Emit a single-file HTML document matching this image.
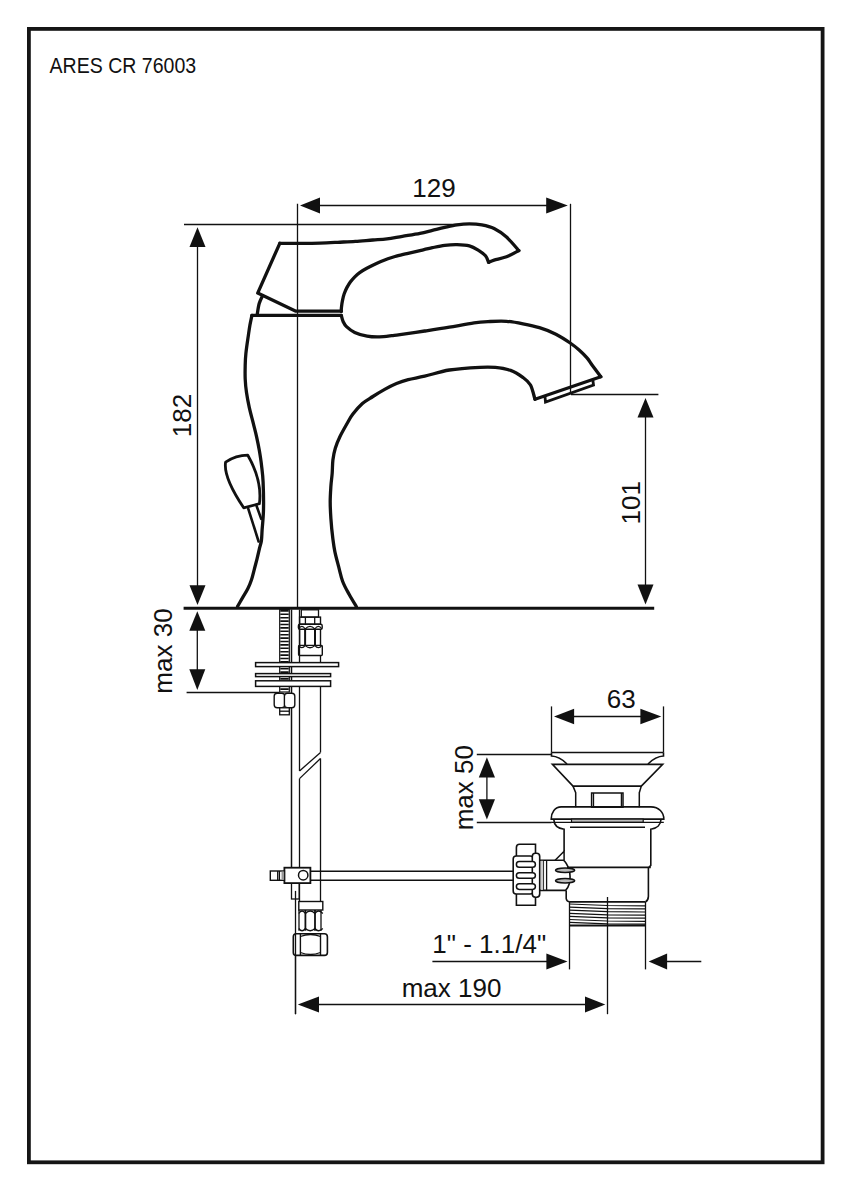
<!DOCTYPE html>
<html><head><meta charset="utf-8"><title>ARES CR 76003</title>
<style>
html,body{margin:0;padding:0;background:#fff;width:850px;height:1190px;overflow:hidden}
svg{display:block}
text{font-family:"Liberation Sans",sans-serif;fill:#111}
.t{fill:none;stroke:#111;stroke-width:1.3}
.m{fill:none;stroke:#111;stroke-width:2}
.k{fill:none;stroke:#111;stroke-width:3.3;stroke-linejoin:round;stroke-linecap:round}
.a{fill:#111;stroke:none}
</style></head>
<body>
<svg width="850" height="1190" viewBox="0 0 850 1190">
<rect x="28.9" y="28.9" width="793.7" height="1133.4" fill="none" stroke="#151515" stroke-width="3.8"/>
<text x="49.6" y="72.7" font-size="21.6" textLength="146.6" lengthAdjust="spacingAndGlyphs">ARES CR 76003</text>
<line class="t" x1="297.5" y1="203.8" x2="297.5" y2="608.0"/>
<line class="t" x1="310.0" y1="205.5" x2="560.0" y2="205.5"/>
<path class="a" d="M300.0,205.5 L320.0,197.5 L320.0,213.5 Z"/>
<path class="a" d="M567.8,205.5 L546.2,197.4 L546.2,213.6 Z"/>
<line class="t" x1="570.5" y1="203.8" x2="570.5" y2="393.5"/>
<text x="434" y="197.4" font-size="26" text-anchor="middle">129</text>
<line class="t" x1="184.0" y1="224.5" x2="462.0" y2="224.5"/>
<line class="t" x1="197.5" y1="240.0" x2="197.5" y2="595.0"/>
<path class="a" d="M197.5,227.2 L189.5,247.0 L205.5,247.0 Z"/>
<path class="a" d="M197.5,605.0 L189.5,585.2 L205.5,585.2 Z"/>
<text transform="translate(191.2,415.5) rotate(-90)" font-size="26" text-anchor="middle">182</text>
<line class="t" x1="571.0" y1="394.5" x2="658.4" y2="394.5"/>
<line class="t" x1="645.5" y1="410.0" x2="645.5" y2="595.0"/>
<path class="a" d="M645.5,398.1 L637.5,417.5 L653.5,417.5 Z"/>
<path class="a" d="M645.5,604.5 L637.5,584.5 L653.5,584.5 Z"/>
<text transform="translate(640.2,502.8) rotate(-90)" font-size="26" text-anchor="middle">101</text>
<line x1="183.6" y1="608.3" x2="654.2" y2="608.3" stroke="#111" stroke-width="2.9"/>
<path class="k" d="M279.8,243.3 C283.2,243.3 293.3,243.3 300.0,243.3 C306.7,243.3 313.7,243.3 320.0,243.1 C326.3,242.9 331.7,242.6 337.6,242.3 C343.5,242.0 349.4,241.8 355.3,241.4 C361.2,241.0 367.6,240.4 372.9,240.0 C378.2,239.6 382.1,239.5 387.0,238.9 C391.9,238.3 396.9,237.2 402.4,236.3 C407.9,235.4 415.0,234.4 420.0,233.4 C425.0,232.4 428.3,231.4 432.4,230.4 C436.5,229.4 440.6,228.3 444.7,227.4 C448.8,226.5 452.9,225.5 457.0,224.9 C461.1,224.3 465.3,223.9 469.4,223.9 C473.5,223.9 477.7,224.1 481.8,224.8 C485.9,225.6 490.0,226.4 494.1,228.4 C498.2,230.4 502.4,233.3 506.5,237.0 C510.6,240.7 516.8,248.3 518.8,250.6"/>
<path class="k" d="M518.8,250.6 C516.8,251.6 510.6,255.2 506.5,256.8 C502.4,258.4 497.1,259.2 494.1,260.1 C491.1,261.0 489.5,262.0 488.6,262.4"/>
<path class="k" d="M488.6,262.4 C488.1,261.3 487.1,257.7 485.5,255.8 C483.9,253.9 482.0,252.5 479.3,250.8 C476.6,249.2 473.1,246.9 469.4,245.9 C465.7,244.9 461.1,244.7 457.0,244.6 C452.9,244.5 448.8,244.8 444.7,245.3 C440.6,245.8 436.5,246.8 432.4,247.7 C428.3,248.6 424.2,249.6 420.0,250.6 C415.8,251.6 411.2,252.6 407.0,253.6 C402.8,254.6 398.2,255.6 395.0,256.5 C391.8,257.4 390.2,257.9 387.9,258.8 C385.5,259.7 383.2,260.6 380.9,261.6 C378.5,262.6 376.1,263.7 373.8,264.8 C371.5,265.9 369.2,267.0 366.8,268.3 C364.4,269.6 361.7,271.2 359.7,272.6 C357.7,274.0 356.3,275.3 354.8,276.8 C353.3,278.3 351.8,280.0 350.5,281.8 C349.2,283.6 348.1,285.4 347.0,287.4 C345.9,289.4 345.0,291.6 344.2,293.8 C343.4,296.0 342.9,298.5 342.4,300.8 C341.9,303.1 341.6,306.1 341.4,307.9 C341.2,309.7 341.3,310.8 341.3,311.4"/>
<path class="k" d="M279.8,243.3 L257.7,293.1 L295.9,311.2 L341.3,311.2"/>
<path class="k" d="M262.6,295.6 C262.0,296.9 260.1,300.4 259.2,303.5 C258.3,306.6 257.5,312.7 257.2,314.5"/>
<path class="k" d="M251.9,315.4 L341.3,315.4"/>
<path class="k" d="M341.3,315.4 C341.6,316.4 342.3,319.8 343.2,321.7 C344.1,323.6 344.6,324.8 346.5,326.6 C348.4,328.4 351.3,330.8 354.7,332.4 C358.1,334.0 363.0,335.4 367.1,336.1 C371.2,336.9 375.3,337.0 379.4,336.9 C383.5,336.8 388.4,336.1 391.8,335.7 C395.2,335.3 394.5,335.5 400.0,334.7 C405.5,333.9 416.5,332.2 424.7,331.0 C432.9,329.8 441.2,328.6 449.4,327.2 C457.6,325.8 467.3,323.8 474.1,322.9 C480.9,321.9 484.6,321.8 490.0,321.5 C495.4,321.2 501.0,320.9 506.5,321.3 C512.0,321.7 517.5,322.7 523.0,323.8 C528.5,324.9 533.9,326.0 539.4,327.7 C544.9,329.4 550.8,331.6 555.9,334.2 C561.0,336.8 566.3,340.3 570.2,343.0 C574.1,345.7 576.6,347.7 579.4,350.2 C582.2,352.7 584.8,355.3 587.0,357.9 C589.2,360.4 590.1,362.4 592.4,365.5 C594.7,368.6 599.4,374.9 600.8,376.8"/>
<path class="k" d="M600.8,376.8 L535.0,399.3"/>
<path class="k" d="M535.0,399.3 C534.2,396.9 532.5,388.7 530.5,385.0 C528.5,381.3 526.1,379.7 522.8,377.3 C519.5,374.9 515.2,372.0 510.6,370.4 C506.0,368.8 500.4,367.9 495.3,367.4 C490.2,366.9 487.6,366.9 480.0,367.3 C472.4,367.7 458.6,368.5 449.4,370.0 C440.2,371.5 431.6,374.6 424.7,376.2 C417.8,377.8 412.9,378.4 408.2,379.6 C403.5,380.8 400.4,381.9 396.5,383.5 C392.6,385.1 388.6,387.2 384.7,389.4 C380.8,391.6 376.6,394.1 372.9,396.5 C369.2,398.9 365.7,400.6 362.4,403.5 C359.1,406.4 355.4,410.8 352.9,414.1 C350.3,417.4 349.2,419.8 347.1,423.5 C345.0,427.2 342.0,432.4 340.0,436.5 C338.0,440.6 336.5,444.3 335.3,448.2 C334.1,452.1 333.4,455.9 332.9,460.0 C332.4,464.1 332.5,468.6 332.2,473.0 C331.9,477.4 331.2,481.3 330.9,486.1 C330.6,490.9 330.2,496.3 330.2,501.7 C330.2,507.1 330.5,512.6 330.9,518.7 C331.3,524.8 332.1,532.8 332.8,538.2 C333.5,543.6 333.8,546.5 334.8,551.3 C335.8,556.1 337.4,561.9 338.7,566.9 C340.0,571.9 340.9,576.6 342.6,581.2 C344.3,585.8 346.8,590.1 349.1,594.3 C351.4,598.5 355.1,604.5 356.3,606.5"/>
<path class="k" d="M251.9,315.4 C251.6,317.0 250.6,321.3 249.9,325.2 C249.2,329.1 248.6,333.9 247.9,338.6 C247.2,343.3 246.4,348.9 245.9,353.4 C245.4,357.9 245.3,361.2 245.2,365.5 C245.1,369.8 245.0,374.5 245.2,379.0 C245.4,383.5 245.8,387.7 246.5,392.4 C247.2,397.1 248.1,402.0 249.2,407.2 C250.3,412.4 252.1,418.5 253.3,423.4 C254.5,428.3 255.6,432.3 256.6,436.8 C257.6,441.3 258.5,445.6 259.3,450.3 C260.1,455.0 260.9,459.8 261.5,465.1 C262.1,470.4 262.8,474.6 263.1,482.0 C263.4,489.4 263.7,501.7 263.5,509.7 C263.3,517.7 262.5,524.8 262.1,530.0 C261.8,535.2 261.8,537.7 261.4,540.7 C261.0,543.7 260.3,544.9 259.6,547.9 C258.9,550.9 258.0,555.0 257.1,558.6 C256.2,562.2 255.2,565.7 254.3,569.3 C253.4,572.9 252.5,576.8 251.4,580.0 C250.3,583.2 249.3,585.8 247.9,588.6 C246.5,591.5 244.6,594.2 242.9,597.1 C241.2,600.0 238.5,604.8 237.6,606.3"/>
<path class="m" d="M544.9,395.8 L545.5,402.0 L593.5,385.1 L592.7,379.0" style="stroke-width:2.8" stroke-linejoin="miter"/>
<path class="k" d="M225.6,462.1 Q235.9,455.35 247.8,455.2 Q262.4,480.75 259.4,503.7 L243.7,507.8 Q223.15,477.05 225.6,462.1 Z" style="stroke-width:2.8"/>
<path class="k" d="M248.3,508.8 L258.6,541.5 M256.6,506 L261.2,518.9" style="stroke-width:2.6"/>
<line class="t" x1="197.3" y1="625.0" x2="197.3" y2="675.0"/>
<path class="a" d="M197.3,611.3 L189.3,630.7 L205.3,630.7 Z"/>
<path class="a" d="M197.3,689.9 L189.3,669.3 L205.3,669.3 Z"/>
<line class="t" x1="186.6" y1="692.5" x2="279.6" y2="692.5"/>
<text transform="translate(171.8,651) rotate(-90)" font-size="26" text-anchor="middle">max 30</text>
<rect x="279.7" y="609.5" width="9.6" height="82.5" fill="none" stroke="#111" stroke-width="1.2"/>
<path class="t" style="stroke-width:1.6" d="M280.3,610.9 H288.7 M280.3,614.3 H288.7 M280.3,617.7 H288.7 M280.3,621.1 H288.7 M280.3,624.5 H288.7 M280.3,627.9 H288.7 M280.3,631.3 H288.7 M280.3,634.7 H288.7 M280.3,638.1 H288.7 M280.3,641.5 H288.7 M280.3,644.9 H288.7 M280.3,648.3 H288.7 M280.3,651.7 H288.7 M280.3,655.1 H288.7 M280.3,658.5 H288.7 M280.3,661.9 H288.7 M280.3,665.3 H288.7 M280.3,668.7 H288.7 M280.3,672.1 H288.7 M280.3,675.5 H288.7 M280.3,678.9 H288.7 M280.3,682.3 H288.7 M280.3,685.7 H288.7 M280.3,689.1 H288.7 "/>
<line class="t" x1="291.5" y1="609.5" x2="291.5" y2="867.7" style="stroke-width:1.5"/>
<line class="t" x1="299.5" y1="609.5" x2="299.5" y2="662.0"/>
<line class="t" x1="320.5" y1="655.5" x2="320.5" y2="662.0"/>
<rect x="301.3" y="609.8" width="17.2" height="7.3" fill="none" stroke="#111" stroke-width="1.3"/>
<rect x="299.6" y="617.1" width="20.9" height="7.1" fill="none" stroke="#111" stroke-width="1.4"/>
<line class="t" x1="305.4" y1="617.1" x2="305.4" y2="624.2"/>
<line class="t" x1="314.7" y1="617.1" x2="314.7" y2="624.2"/>
<rect x="298.4" y="624.2" width="23.8" height="5" rx="1.5" fill="none" stroke="#111" stroke-width="1.4"/>
<path class="t" d="M298.6,629 Q301.8,623.8 305.2,629 Q310,623.6 314.8,629 Q318.4,623.8 322,629" fill="#bbb" fill-opacity="0.4"/>
<line class="t" x1="299.6" y1="629.2" x2="299.6" y2="645.4" style="stroke-width:1.4"/>
<line class="t" x1="320.5" y1="629.2" x2="320.5" y2="645.4" style="stroke-width:1.4"/>
<line class="t" x1="305.1" y1="629.2" x2="305.1" y2="645.4" style="stroke-width:2"/>
<line class="t" x1="315.0" y1="629.2" x2="315.0" y2="645.4" style="stroke-width:2"/>
<path class="t" d="M298.6,645.4 Q301.8,650 305.2,645.4 Q310,650.2 314.8,645.4 Q318.4,650 322,645.4" fill="#bbb" fill-opacity="0.4"/>
<rect x="298.6" y="645.4" width="23.7" height="10.1" rx="1" fill="none" stroke="#111" stroke-width="1.4"/>
<rect x="255.6" y="662.6" width="83" height="4" fill="#fff" stroke="#111" stroke-width="1.5"/>
<rect x="255.6" y="673.6" width="75" height="3" fill="#fff" stroke="#111" stroke-width="1.5"/>
<rect x="255.6" y="680.8" width="75" height="5.6" fill="#fff" stroke="#111" stroke-width="1.5"/>
<rect x="274.2" y="693.2" width="10.6" height="14.6" rx="3" fill="#fff" stroke="#111" stroke-width="1.4"/>
<rect x="284.4" y="693.2" width="10.4" height="14.6" rx="3" fill="#fff" stroke="#111" stroke-width="1.4"/>
<rect x="279.7" y="707.8" width="9.6" height="7" fill="#fff" stroke="#111" stroke-width="1.3"/>
<line class="t" x1="279.7" y1="711.2" x2="289.3" y2="711.2"/>
<line class="t" x1="299.5" y1="686.4" x2="299.5" y2="771.0"/>
<line class="t" x1="299.5" y1="778.6" x2="299.5" y2="901.5"/>
<line class="t" x1="320.5" y1="686.4" x2="320.5" y2="752.4"/>
<line class="t" x1="320.5" y1="758.5" x2="320.5" y2="901.5"/>
<line class="t" x1="299.5" y1="771.0" x2="320.5" y2="752.4"/>
<line class="t" x1="299.5" y1="778.6" x2="320.5" y2="758.5"/>
<rect x="291.5" y="883" width="7.7" height="16" fill="none" stroke="#111" stroke-width="1.3"/>
<line class="t" x1="295.5" y1="890.9" x2="295.5" y2="1014.2"/>
<rect x="284.4" y="867.7" width="26" height="15.4" fill="#fff" stroke="#111" stroke-width="1.8"/>
<circle cx="303.2" cy="875.2" r="4.7" fill="none" stroke="#111" stroke-width="1.5"/>
<rect x="270.3" y="871" width="14.1" height="9.3" fill="#fff" stroke="#111" stroke-width="1.4"/>
<line class="t" x1="277.7" y1="871.0" x2="277.7" y2="880.3"/>
<line class="t" x1="279.4" y1="871.0" x2="279.4" y2="880.3"/>
<rect x="281.5" y="871.6" width="2.6" height="8.1" fill="#999"/>
<line class="t" x1="310.4" y1="871.3" x2="513.2" y2="871.3" style="stroke-width:1.5"/>
<line class="t" x1="310.4" y1="880.3" x2="513.2" y2="880.3" style="stroke-width:1.5"/>
<rect x="298.8" y="901.5" width="24" height="8.5" fill="#fff" stroke="#111" stroke-width="1.4"/>
<line class="t" x1="299.0" y1="910.0" x2="299.0" y2="930.7"/>
<line class="t" x1="321.0" y1="910.0" x2="321.0" y2="930.7"/>
<line class="t" x1="305.4" y1="910.0" x2="305.4" y2="930.7" style="stroke-width:1.8"/>
<line class="t" x1="315.0" y1="910.0" x2="315.0" y2="930.7" style="stroke-width:1.8"/>
<path class="t" d="M298.8,913.5 Q302,908.5 305.4,913.5 Q310.2,908.5 315,913.5 Q318.4,908.5 322.8,913.5" fill="#bbb" fill-opacity="0.4"/>
<path class="t" d="M298.8,928.5 Q302,933 305.4,928.5 Q310.2,933 315,928.5 Q318.4,933 322.8,928.5" fill="#bbb" fill-opacity="0.4"/>
<rect x="293.3" y="933.7" width="34.1" height="21.7" rx="3" fill="#fff" stroke="#111" stroke-width="1.6"/>
<line class="t" x1="300.4" y1="933.7" x2="300.4" y2="955.4" style="stroke-width:1.4"/>
<line class="t" x1="320.5" y1="933.7" x2="320.5" y2="955.4" style="stroke-width:1.4"/>
<path class="t" d="M300.4,936.5 Q310.5,932.5 320.5,936.5 M300.4,952.5 Q310.5,956.5 320.5,952.5"/>
<line class="t" x1="295.5" y1="933.7" x2="295.5" y2="1014.2"/>
<line class="t" x1="551.5" y1="706.4" x2="551.5" y2="752.5"/>
<line class="t" x1="663.5" y1="706.4" x2="663.5" y2="752.5"/>
<line class="t" x1="570.0" y1="716.5" x2="645.0" y2="716.5"/>
<path class="a" d="M554.0,716.5 L574.1,708.7 L574.1,724.3 Z"/>
<path class="a" d="M661.3,716.5 L640.4,708.7 L640.4,724.3 Z"/>
<text x="621.3" y="708.3" font-size="26" text-anchor="middle">63</text>
<line class="t" x1="476.8" y1="754.5" x2="551.5" y2="754.5"/>
<line class="t" x1="476.8" y1="822.5" x2="551.5" y2="822.5"/>
<line class="t" x1="486.9" y1="770.0" x2="486.9" y2="805.0"/>
<path class="a" d="M486.9,757.3 L478.8,777.6 L495.0,777.6 Z"/>
<path class="a" d="M486.9,819.6 L478.8,799.3 L495.0,799.3 Z"/>
<text transform="translate(472.6,787.7) rotate(-90)" font-size="26" text-anchor="middle">max 50</text>
<line class="t" x1="551.5" y1="752.5" x2="663.5" y2="752.5" style="stroke-width:1.6"/>
<path class="t" d="M551.5,752.5 L551.5,756 Q559.5,756.3 567,764 M663.5,752.5 L663.5,756 Q655.5,756.3 648,764" style="stroke-width:1.6"/>
<path class="t" d="M552.4,764.4 L662.7,764.4 L641.3,786.1 L573.0,786.1 Z" style="stroke-width:1.6"/>
<path class="t" d="M573,786.1 L575.7,792.7 L575.7,807.2 M641.3,786.1 L639.3,792.7 L639.3,807.2" style="stroke-width:1.5"/>
<rect x="591.6" y="793" width="31.4" height="14.2" fill="none" stroke="#111" stroke-width="1.5"/>
<line class="t" x1="593.5" y1="793.0" x2="593.5" y2="807.2"/>
<line class="t" x1="621.4" y1="793.0" x2="621.4" y2="807.2"/>
<path class="t" d="M561.2,806.9 L650.9,806.9 C659,806.9 663.8,812.5 663.8,819.1 L551.2,819.1 C551.2,812.5 555,806.9 561.2,806.9 Z" style="stroke-width:1.6"/>
<rect x="571.5" y="819.1" width="71.7" height="3.3" fill="#bbb" stroke="#111" stroke-width="1.2"/>
<path class="t" d="M553.8,819.4 C554,824.5 557.5,828.5 564.1,829.2 L564.1,851.2 M661,819.4 C660.8,824.5 657.2,828.5 650.8,829.2 L650.8,865.4 L648.4,868 L648.4,896.4 Q648.2,900.6 645.6,901.8" style="stroke-width:1.6"/>
<line class="t" x1="551.2" y1="822.4" x2="663.8" y2="822.4" style="stroke-width:1.3"/>
<line class="t" x1="570.0" y1="827.2" x2="645.0" y2="827.2" style="stroke-width:1.6"/>
<line class="t" x1="567.0" y1="867.4" x2="650.8" y2="867.4" style="stroke-width:1.6"/>
<path class="t" d="M566.2,890.4 L566.2,898.5 Q566.6,901.8 569.9,901.8" style="stroke-width:1.6"/>
<line class="t" x1="569.9" y1="901.8" x2="645.6" y2="901.8" style="stroke-width:1.8"/>
<path class="t" d="M569.5,904.0 L607.4,905.5 L645.6,905.8" style="stroke-width:1.2"/>
<path class="t" d="M569.5,907.1 L607.4,908.6 L645.6,908.9" style="stroke-width:1.2"/>
<path class="t" d="M569.5,910.2 L607.4,911.7 L645.6,912.0" style="stroke-width:1.2"/>
<path class="t" d="M569.5,913.3 L607.4,914.8 L645.6,915.1" style="stroke-width:1.2"/>
<path class="t" d="M569.5,916.4 L607.4,917.9 L645.6,918.2" style="stroke-width:1.2"/>
<path class="t" d="M569.5,919.5 L607.4,921.0 L645.6,921.3" style="stroke-width:1.2"/>
<path class="t" d="M569.5,922.4 L607.4,923.9 L645.6,924.2" style="stroke-width:1.2"/>
<line class="t" x1="569.5" y1="925.6" x2="645.6" y2="925.6" style="stroke-width:2"/>
<line class="t" x1="569.5" y1="901.8" x2="569.5" y2="969.4"/>
<line class="t" x1="645.5" y1="901.8" x2="645.5" y2="969.4"/>
<line class="t" x1="607.5" y1="897.0" x2="607.5" y2="1014.2"/>
<path class="t" d="M539.7,860.2 L563.5,860.2 C566.2,862.5 567.8,866 569,869.5 C570.3,874 570.3,879.5 569.2,884 C568.4,886.8 567.2,888.8 565.6,890.4 L539.7,890.4" style="stroke-width:1.6"/>
<line class="t" x1="543.4" y1="860.2" x2="543.4" y2="890.4"/>
<line class="t" x1="546.6" y1="860.2" x2="546.6" y2="890.4"/>
<rect x="540.8" y="860.8" width="2.4" height="29" fill="#ccc"/>
<path class="t" d="M555.1,860.2 L564.1,851.2 L564.1,860.2" style="stroke-width:1.5"/>
<ellipse cx="565.1" cy="870.2" rx="9.6" ry="2.2" fill="#bbb" stroke="#111" stroke-width="1.5"/>
<ellipse cx="565.1" cy="880.8" rx="9.6" ry="2.2" fill="#bbb" stroke="#111" stroke-width="1.5"/>
<path class="t" d="M516.4,856 L516.4,847.5 Q516.4,844.3 519.6,844.3 L535.5,844.3 L535.5,853.5" style="stroke-width:1.6"/>
<path class="t" d="M516.4,894 L516.4,905.2 L535.5,905.2 L535.5,897.3" style="stroke-width:1.6"/>
<rect x="513.2" y="856" width="20" height="38" rx="3" fill="#fff" stroke="#111" stroke-width="1.6"/>
<rect x="532.3" y="853.3" width="7.4" height="43.9" rx="3.2" fill="#fff" stroke="#111" stroke-width="1.6"/>
<rect x="516.4" y="861.6" width="19" height="5.6" rx="2.8" fill="#fff" stroke="#111" stroke-width="1.5"/>
<rect x="516.4" y="872.7" width="19" height="5.6" rx="2.8" fill="#fff" stroke="#111" stroke-width="1.5"/>
<rect x="516.4" y="883.8" width="19" height="5.6" rx="2.8" fill="#fff" stroke="#111" stroke-width="1.5"/>
<line class="t" x1="432.4" y1="961.5" x2="550.0" y2="961.5"/>
<path class="a" d="M567.5,961.5 L546.4,953.6 L546.4,969.4 Z"/>
<line class="t" x1="665.0" y1="961.5" x2="701.3" y2="961.5"/>
<path class="a" d="M648.7,961.5 L667.1,953.6 L667.1,969.4 Z"/>
<text x="432.3" y="952.5" font-size="26">1&quot; - 1.1/4&quot;</text>
<line class="t" x1="310.0" y1="1004.5" x2="590.0" y2="1004.5"/>
<path class="a" d="M297.8,1004.5 L319.0,996.5 L319.0,1012.5 Z"/>
<path class="a" d="M605.3,1004.5 L585.0,996.5 L585.0,1012.5 Z"/>
<text x="451.5" y="997.3" font-size="26" text-anchor="middle">max 190</text>
</svg>
</body></html>
